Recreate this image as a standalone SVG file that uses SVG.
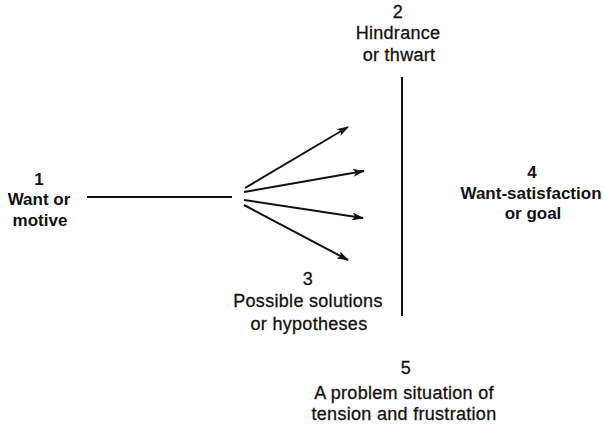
<svg xmlns="http://www.w3.org/2000/svg" width="604" height="424" viewBox="0 0 604 424">
<style>
text{font-family:"Liberation Sans",Arial,sans-serif;font-size:18px;letter-spacing:0.3px;fill:#111;text-anchor:middle;stroke:#111;stroke-width:0.3}
.b{font-weight:bold;stroke-width:0;font-size:17px;letter-spacing:0}
line{stroke:#111;stroke-width:2}
</style>
<defs>
<marker id="ah" viewBox="0 0 12 8" refX="11" refY="4" markerWidth="12" markerHeight="8" markerUnits="userSpaceOnUse" orient="auto">
<path d="M0,0 L12,4 L0,8 L3,4 Z" fill="#111"/>
</marker>
</defs>
<rect width="604" height="424" fill="#fff"/>
<g id="n1"><text x="39" y="185" class="b">1</text><text x="39" y="205" class="b">Want or</text><text x="40" y="226" class="b">motive</text></g>
<g id="n2"><text x="398" y="18">2</text><text x="398" y="39">Hindrance</text><text x="399" y="61">or thwart</text></g>
<g id="n3"><text x="308" y="285">3</text><text x="308" y="307">Possible solutions</text><text x="309" y="330">or hypotheses</text></g>
<g id="n4"><text x="532" y="178" class="b">4</text><text x="531" y="199" class="b">Want-satisfaction</text><text x="533" y="219" class="b">or goal</text></g>
<g id="n5"><text x="406" y="374">5</text><text x="404" y="399">A problem situation of</text><text x="404" y="420">tension and frustration</text></g>
<g id="connectors">
<line x1="87" y1="197" x2="232" y2="197"/>
<line x1="402" y1="77" x2="402" y2="316" stroke-width="3"/>
<line x1="245" y1="188" x2="348" y2="127" marker-end="url(#ah)"/>
<line x1="244" y1="192" x2="364" y2="171" marker-end="url(#ah)"/>
<line x1="244" y1="200" x2="363" y2="218" marker-end="url(#ah)"/>
<line x1="244" y1="205" x2="348" y2="260" marker-end="url(#ah)"/>
</g>
</svg>
